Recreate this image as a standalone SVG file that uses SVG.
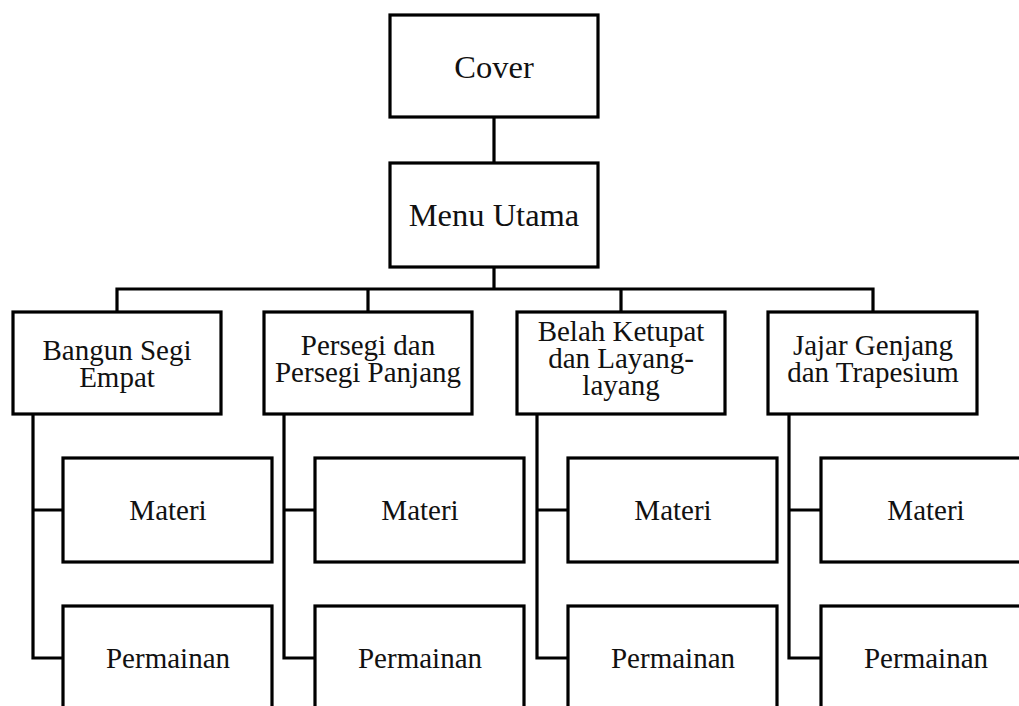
<svg xmlns="http://www.w3.org/2000/svg" width="1019" height="706" viewBox="0 0 1019 706">
<style>
.box{fill:#fff;stroke:#000;stroke-width:3.2}
.ln{fill:none;stroke:#000;stroke-width:3.2;stroke-linecap:square}
.t{font-family:"Liberation Serif","Times New Roman",serif;font-size:29px;text-anchor:middle;fill:#111}
.big{font-size:32.5px}
</style>
<rect width="1019" height="706" fill="#fff"/>
<g id="connectors">
<path class="ln" d="M494 117V163M494 267V289M117 289H873M117 289V312M368 289V312M621 289V312M873 289V312"/>
<path class="ln" d="M33 414V658H63M33 510H63"/>
<path class="ln" d="M284 414V658H315M284 510H315"/>
<path class="ln" d="M537 414V658H568M537 510H568"/>
<path class="ln" d="M789 414V658H821M789 510H821"/>
</g>
<g id="cover"><rect class="box" x="390" y="15" width="208" height="102"/><text class="t big" x="494" y="78">Cover</text></g>
<g id="menu-utama"><rect class="box" x="390" y="163" width="208" height="104"/><text class="t big" x="494" y="226">Menu Utama</text></g>
<g id="bangun-segi-empat"><rect class="box" x="13" y="312" width="208" height="102"/><text class="t" x="117" y="360">Bangun Segi</text><text class="t" x="117" y="387">Empat</text></g>
<g id="persegi"><rect class="box" x="264" y="312" width="208" height="102"/><text class="t" x="368" y="355">Persegi dan</text><text class="t" x="368" y="382">Persegi Panjang</text></g>
<g id="belah-ketupat"><rect class="box" x="517" y="312" width="208" height="102"/><text class="t" x="621" y="341">Belah Ketupat</text><text class="t" x="621" y="368">dan Layang-</text><text class="t" x="621" y="395">layang</text></g>
<g id="jajar-genjang"><rect class="box" x="768" y="312" width="209" height="102"/><text class="t" x="873" y="355">Jajar Genjang</text><text class="t" x="873" y="382">dan Trapesium</text></g>
<g id="materi-1"><rect class="box" x="63" y="458" width="209" height="104"/><text class="t" x="168" y="520">Materi</text></g>
<g id="materi-2"><rect class="box" x="315" y="458" width="209" height="104"/><text class="t" x="420" y="520">Materi</text></g>
<g id="materi-3"><rect class="box" x="568" y="458" width="209" height="104"/><text class="t" x="673" y="520">Materi</text></g>
<g id="materi-4"><rect class="box" x="821" y="458" width="209" height="104"/><text class="t" x="926" y="520">Materi</text></g>
<g id="permainan-1"><rect class="box" x="63" y="606" width="209" height="110"/><text class="t" x="168" y="668">Permainan</text></g>
<g id="permainan-2"><rect class="box" x="315" y="606" width="209" height="110"/><text class="t" x="420" y="668">Permainan</text></g>
<g id="permainan-3"><rect class="box" x="568" y="606" width="209" height="110"/><text class="t" x="673" y="668">Permainan</text></g>
<g id="permainan-4"><rect class="box" x="821" y="606" width="209" height="110"/><text class="t" x="926" y="668">Permainan</text></g>
</svg>
